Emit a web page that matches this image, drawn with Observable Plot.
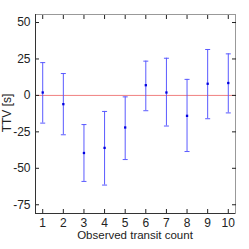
<!DOCTYPE html>
<html><head><meta charset="utf-8">
<script src="https://cdn.jsdelivr.net/npm/d3@7"></script>
<script src="https://cdn.jsdelivr.net/npm/@observablehq/plot@0.6"></script>
<style>body{margin:0;background:#fff}</style>
</head><body><div id="chart"></div>
<script>
const counts = [1,2,3,4,5,6,7,8,9,10];
const ttv = [2,-6,-39.5,-36,-22,7,2,-14,8,8.5];
const errLow = [-19,-27,-59,-61.5,-44,-10.5,-21,-38.5,-16,-12];
const errHigh = [22.5,15,-20,-11,-1,23.5,25.5,11,31.5,28.5];
const yTicks = [-75,-50,-25,0,25,50];

const data = counts.map((c,i)=>({c, v: ttv[i], lo: errLow[i], hi: errHigh[i]}));
const cap = {draw(ctx, size){ const w = 2.5; ctx.moveTo(-w,0); ctx.lineTo(w,0);}};
const font = "Liberation Sans, Arial, sans-serif";

const plot = Plot.plot({
  width: 249, height: 249,
  marginLeft: 35, marginRight: 14, marginTop: 14, marginBottom: 36,
  style: {fontFamily: font, fontSize: "11px", color: "#222", background: "#fff"},
  x: {domain: [0.65, 10.35]},
  y: {domain: [-81, 55.5]},
  marks: [
    Plot.frame({stroke: "#999", strokeWidth: 1}),
    Plot.ruleY([0], {stroke: "#f08080", strokeWidth: 1}),
    Plot.ruleX(data, {x: "c", y1: "lo", y2: "hi", stroke: "#5a5aff", strokeWidth: 1}),
    Plot.dot(data, {x: "c", y: "lo", symbol: cap, stroke: "#5a5aff", strokeWidth: 1, r: 2}),
    Plot.dot(data, {x: "c", y: "hi", symbol: cap, stroke: "#5a5aff", strokeWidth: 1, r: 2}),
    Plot.dot(data, {x: "c", y: "v", symbol: "square", fill: "#0000e0", r: 1.3}),
    Plot.axisX(counts, {anchor: "bottom", tickSize: -4, tickPadding: 9, tickFormat: d => String(d), label: null, fontSize: 12}),
    Plot.axisX(counts, {anchor: "top", tickSize: -4, tickFormat: () => "", label: null}),
    Plot.axisY(yTicks, {anchor: "left", tickSize: -4, tickPadding: 9, tickFormat: d => String(d), label: null, fontSize: 12}),
    Plot.axisY(yTicks, {anchor: "right", tickSize: -4, tickFormat: () => "", label: null}),
    Plot.ruleX([0.65], {stroke: "#333"}),
    Plot.ruleY([-81], {stroke: "#333"})
  ]
});
const svg = d3.select(plot);
svg.append("text").attr("x", 135).attr("y", 239).attr("text-anchor", "middle")
  .attr("font-family", font).attr("font-size", 11.5).attr("fill", "#222").text("Observed transit count");
svg.append("text").attr("transform", "translate(11,113) rotate(-90)").attr("text-anchor", "middle")
  .attr("font-family", font).attr("font-size", 12).attr("fill", "#222").text("TTV [s]");
document.getElementById("chart").appendChild(plot);
</script>
</body></html>
